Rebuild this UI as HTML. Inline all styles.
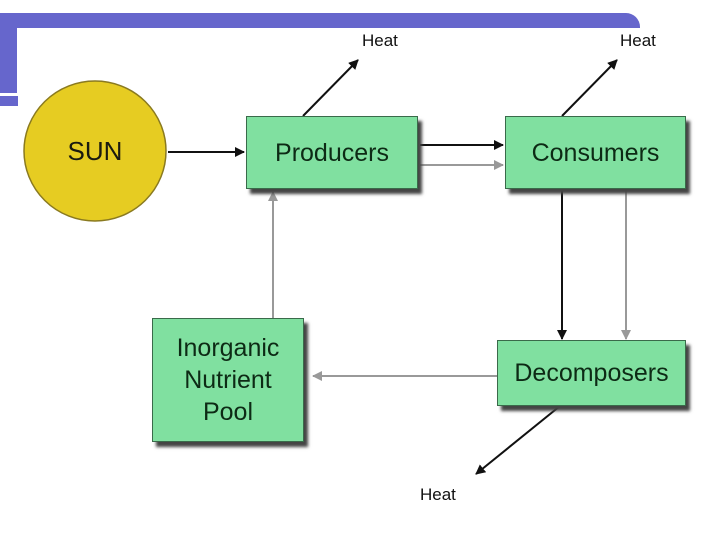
<!DOCTYPE html>
<html><head><style>
body{margin:0;width:720px;height:540px;background:#fff;position:relative;overflow:hidden;font-family:"Liberation Sans",sans-serif;}
.b{position:absolute;background:#6666cc;}
.box{position:absolute;background:#80e0a0;border:1px solid #3a6a4a;box-shadow:4px 5px 3px #444;display:flex;align-items:center;justify-content:center;text-align:center;color:#0d2a15;font-size:25px;line-height:32px;}
.t{position:absolute;font-size:17px;color:#111;}
</style></head><body>
<div class="b" style="left:0;top:13px;width:640px;height:15px;border-top-right-radius:14px;"></div>
<div class="b" style="left:0;top:13px;width:17px;height:80px;"></div>
<div class="b" style="left:0;top:96px;width:18px;height:10px;"></div>
<svg width="720" height="540" style="position:absolute;left:0;top:0">
<defs>
<marker id="k" markerWidth="10" markerHeight="10" refX="9" refY="5" orient="auto" markerUnits="userSpaceOnUse"><path d="M0,0 L10,5 L0,10z" fill="#111"/></marker>
<marker id="g" markerWidth="10" markerHeight="10" refX="9" refY="5" orient="auto" markerUnits="userSpaceOnUse"><path d="M0,0 L10,5 L0,10z" fill="#999"/></marker>
</defs>
<ellipse cx="95" cy="151" rx="71" ry="70" fill="#e6cc22" stroke="#8a7a20" stroke-width="1.5"/>
<g stroke-width="2" fill="none">
<line x1="168" y1="152" x2="244" y2="152" stroke="#111" marker-end="url(#k)"/>
<line x1="420" y1="145" x2="503" y2="145" stroke="#111" marker-end="url(#k)"/>
<line x1="420" y1="165" x2="503" y2="165" stroke="#999" marker-end="url(#g)"/>
<line x1="303" y1="116" x2="358" y2="60" stroke="#111" marker-end="url(#k)"/>
<line x1="562" y1="116" x2="617" y2="60" stroke="#111" marker-end="url(#k)"/>
<line x1="562" y1="190" x2="562" y2="339" stroke="#111" marker-end="url(#k)"/>
<line x1="626" y1="190" x2="626" y2="339" stroke="#999" marker-end="url(#g)"/>
<line x1="497" y1="376" x2="313" y2="376" stroke="#999" marker-end="url(#g)"/>
<line x1="273" y1="318" x2="273" y2="192" stroke="#999" marker-end="url(#g)"/>
<line x1="560" y1="406" x2="476" y2="474" stroke="#111" marker-end="url(#k)"/>
</g>
<text x="95" y="160" text-anchor="middle" font-family="Liberation Sans" font-size="26" fill="#1a1a10">SUN</text>
</svg>
<div class="box" style="left:246px;top:116px;width:170px;height:71px;">Producers</div>
<div class="box" style="left:505px;top:116px;width:179px;height:71px;">Consumers</div>
<div class="box" style="left:497px;top:340px;width:187px;height:64px;">Decomposers</div>
<div class="box" style="left:152px;top:318px;width:150px;height:122px;">Inorganic<br>Nutrient<br>Pool</div>
<div class="t" style="left:362px;top:31px;">Heat</div>
<div class="t" style="left:620px;top:31px;">Heat</div>
<div class="t" style="left:420px;top:485px;">Heat</div>
</body></html>
